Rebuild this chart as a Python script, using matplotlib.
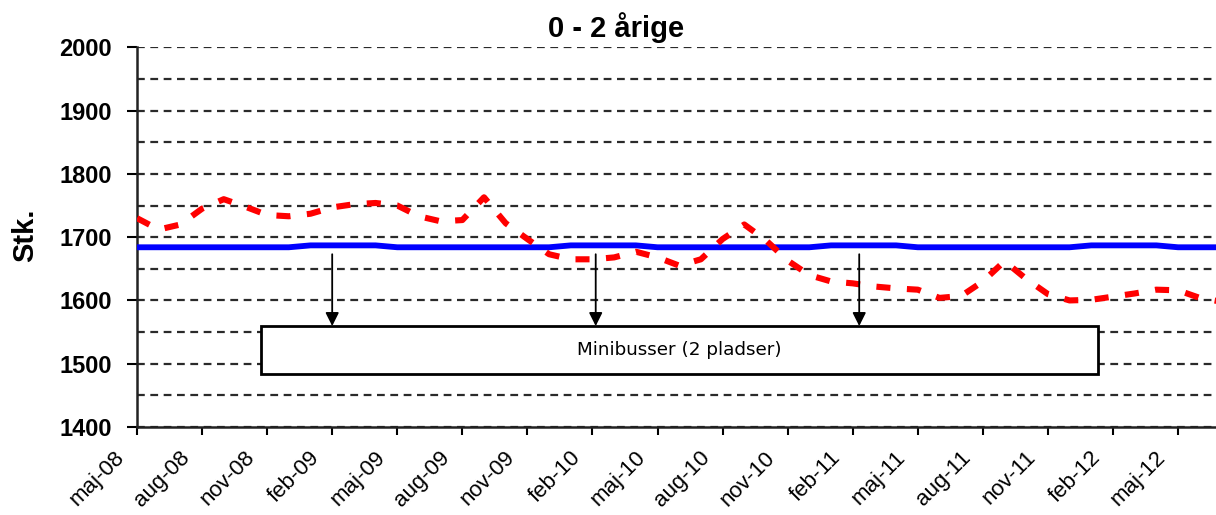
import numpy as np
import matplotlib
matplotlib.use("Agg")
import matplotlib.pyplot as plt
from matplotlib.ticker import MultipleLocator, FixedLocator
from matplotlib.patches import Rectangle
import matplotlib.transforms as mtransforms

# monthly data, maj-08 .. jul-12
tick_labels = ['maj-08', 'aug-08', 'nov-08', 'feb-09', 'maj-09', 'aug-09', 'nov-09',
               'feb-10', 'maj-10', 'aug-10', 'nov-10', 'feb-11', 'maj-11', 'aug-11',
               'nov-11', 'feb-12', 'maj-12']

children = [1730, 1712, 1720, 1745, 1760, 1748, 1735, 1733, 1737, 1747, 1752, 1754,
            1750, 1733, 1725, 1727, 1763, 1722, 1697, 1673, 1665, 1665, 1668, 1677,
            1668, 1655, 1665, 1697, 1720, 1695, 1663, 1640, 1630, 1627, 1622, 1619,
            1617, 1604, 1607, 1630, 1662, 1634, 1610, 1600, 1601, 1606, 1611, 1617,
            1616, 1604, 1598]

capacity = [1684] * 8 + [1687] * 4 + [1684] * 8 + [1687] * 4 + [1684] * 8 + \
           [1687] * 4 + [1684] * 8 + [1687] * 4 + [1684] * 3

arrow_x = [9.0, 21.15, 33.3]
box_text = 'Minibusser (2 pladser)'

months = np.arange(len(children))

fig = plt.figure(figsize=(12.16, 5.15), dpi=100)
ax = fig.add_axes([137/1216, 88/515, 1 - 137/1216, (467.7 - 88)/515])

ax.plot(months, capacity, color='#0000ff', lw=4.2, solid_capstyle='butt', zorder=3)
ax.plot(months, children, color='#ff0000', lw=4.4, linestyle=(0, (2.3, 2.7)),
        dash_capstyle='butt', zorder=4)

ax.set_ylim(1400, 2000)
ax.set_xlim(0, 49.75)
ax.yaxis.set_major_locator(MultipleLocator(100))
ax.yaxis.set_minor_locator(MultipleLocator(50))
ax.grid(axis='y', which='both', color='#2a2a2a', lw=1.6, linestyle=(0, (3.5, 2.5)), zorder=1)
ax.set_axisbelow(True)
ax.tick_params(axis='y', which='minor', length=0)
ax.tick_params(axis='y', which='major', length=7, width=1.5, pad=11, labelsize=17)
ax.tick_params(axis='x', length=6, width=1.5, pad=2, labelsize=16)

ax.xaxis.set_major_locator(FixedLocator(np.arange(0, 49, 3)))
ax.set_xticklabels(tick_labels, rotation=45, ha='right', va='top')
offset = mtransforms.ScaledTranslation(-8/100, -9/100, fig.dpi_scale_trans)
for lab in ax.get_xticklabels():
    lab.set_transform(lab.get_transform() + offset)
    lab.set_fontfamily('Liberation Sans')
for lab in ax.get_yticklabels():
    lab.set_fontfamily('Liberation Sans')
    lab.set_fontweight('bold')

for s in ['top', 'right']:
    ax.spines[s].set_visible(False)
for s in ['left', 'bottom']:
    ax.spines[s].set_linewidth(1.8)
    ax.spines[s].set_color('#222222')

# text box with arrows
ax.add_patch(Rectangle((5.72, 1483.5), 44.3 - 5.72, 1559.5 - 1483.5, facecolor='white',
                       edgecolor='black', lw=2, zorder=5))
ax.text((5.72 + 44.3) / 2, 1521.5, box_text, ha='center', va='center',
        fontsize=13.2, family='DejaVu Sans', zorder=6)
for xa in arrow_x:
    ax.annotate('', xy=(xa, 1559.5), xytext=(xa, 1673),
                arrowprops=dict(arrowstyle='-|>', color='black', lw=1.3,
                                mutation_scale=20, shrinkA=0, shrinkB=0), zorder=6)

fig.text(616/1216, 1 - 28/515, '0 - 2 årige', ha='center', va='center',
         fontsize=21, fontweight='bold', family='Liberation Sans')
fig.text(25/1216, 1 - 235/515, 'Stk.', ha='center', va='center', rotation=90,
         fontsize=21, fontweight='bold', family='Liberation Sans')

fig.savefig('out.png', dpi=100)
